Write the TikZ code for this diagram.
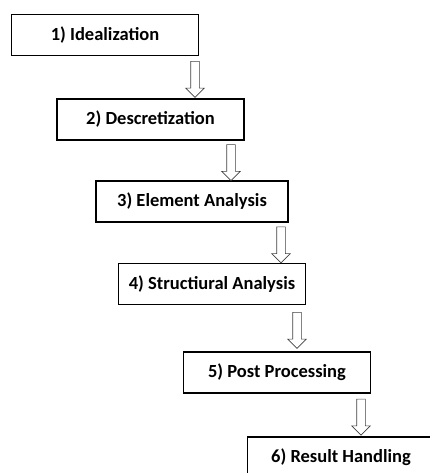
\documentclass[tikz,border=0pt]{standalone}
\usepackage{fontspec}
\setmainfont{Carlito}
\usetikzlibrary{shapes.arrows}

\begin{document}
\begin{tikzpicture}[x=1pt,y=-1pt,box/.style={draw,line width=1.8pt,minimum width=187pt,minimum height=41pt,inner sep=0pt,font=\bfseries\fontsize{18.5}{20}\selectfont},dn/.style={draw=black!75,line width=.6pt,single arrow,shape border rotate=270,single arrow head extend=5pt,single arrow head indent=0pt,minimum height=36pt,inner sep=4pt}]
\useasboundingbox (0,0) rectangle (430,473);
\node[box] (b1) at (105,35) {1) Idealization};
\node[box] (b2) at (150.5,119.5) {2) Descretization};
\node[box,minimum width=192pt] (b3) at (192,201.5) {3) Element Analysis};
\node[box] (b4) at (212,284) {4) Structiural Analysis};
\node[box] (b5) at (277,372.5) {5) Post Processing};
\node[box] (b6) at (341,457.5) {6) Result Handling};
\path (b1.south -| 195,0) -- node[dn] (a1) {} (b2.north -| 195,0);
\path (b2.south -| 231,0) -- node[dn] (a2) {} (b3.north -| 231,0);
\path (b3.south -| 281,0) -- node[dn] (a3) {} (b4.north -| 281,0);
\path (b4.south -| 297,0) -- node[dn] (a4) {} (b5.north -| 297,0);
\path (b5.south -| 361,0) -- node[dn] (a5) {} (b6.north -| 361,0);
\end{tikzpicture}
\end{document}
